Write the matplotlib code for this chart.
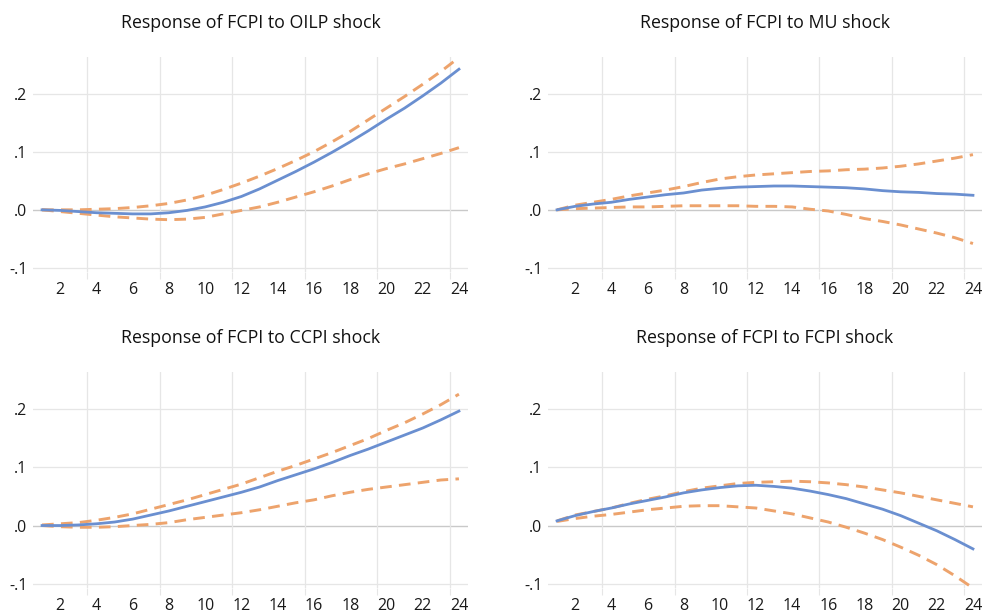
import matplotlib
matplotlib.use("Agg")
import matplotlib.pyplot as plt
import numpy as np

plt.rcParams['font.family'] = ['Open Sans', 'DejaVu Sans']

periods = list(range(1, 25))

# Response of FCPI to OILP shock
oilp_mid = [0.0, -0.001, -0.003, -0.005, -0.006, -0.007, -0.007, -0.005, -0.001, 0.005,
            0.013, 0.023, 0.036, 0.051, 0.066, 0.082, 0.099, 0.117, 0.136, 0.156,
            0.175, 0.196, 0.218, 0.242]
oilp_up = [0.0, 0.0, 0.0, 0.001, 0.002, 0.004, 0.007, 0.011, 0.017, 0.025,
           0.035, 0.046, 0.058, 0.071, 0.085, 0.100, 0.117, 0.135, 0.155, 0.175,
           0.195, 0.216, 0.238, 0.262]
oilp_lo = [0.0, -0.003, -0.006, -0.009, -0.012, -0.014, -0.016, -0.017, -0.016, -0.013,
           -0.007, -0.001, 0.005, 0.013, 0.022, 0.031, 0.041, 0.052, 0.062, 0.071,
           0.079, 0.088, 0.097, 0.107]

# Response of FCPI to MU shock
mu_mid = [0.0, 0.006, 0.010, 0.013, 0.018, 0.022, 0.026, 0.029, 0.034, 0.037,
          0.039, 0.040, 0.041, 0.041, 0.040, 0.039, 0.038, 0.036, 0.033, 0.031,
          0.030, 0.028, 0.027, 0.025]
mu_up = [0.0, 0.008, 0.013, 0.018, 0.024, 0.029, 0.034, 0.040, 0.047, 0.053,
         0.057, 0.060, 0.062, 0.064, 0.066, 0.067, 0.069, 0.070, 0.072, 0.075,
         0.079, 0.084, 0.089, 0.095]
mu_lo = [0.0, 0.002, 0.003, 0.004, 0.005, 0.005, 0.006, 0.007, 0.007, 0.007,
         0.007, 0.006, 0.006, 0.005, 0.001, -0.002, -0.008, -0.015, -0.020, -0.026,
         -0.033, -0.040, -0.048, -0.058]

# Response of FCPI to CCPI shock
ccpi_mid = [0.0, 0.0, 0.001, 0.003, 0.006, 0.011, 0.018, 0.025, 0.033, 0.041,
            0.049, 0.057, 0.066, 0.077, 0.087, 0.097, 0.108, 0.120, 0.131, 0.143,
            0.155, 0.167, 0.181, 0.196]
ccpi_up = [0.001, 0.003, 0.005, 0.009, 0.014, 0.020, 0.028, 0.036, 0.044, 0.053,
           0.062, 0.071, 0.082, 0.093, 0.103, 0.114, 0.125, 0.137, 0.149, 0.163,
           0.176, 0.191, 0.207, 0.225]
ccpi_lo = [0.0, -0.002, -0.003, -0.003, -0.002, 0.0, 0.002, 0.005, 0.010, 0.014,
           0.018, 0.022, 0.027, 0.033, 0.039, 0.044, 0.051, 0.057, 0.062, 0.066,
           0.070, 0.074, 0.078, 0.080]

# Response of FCPI to FCPI shock
fcpi_mid = [0.008, 0.017, 0.024, 0.030, 0.037, 0.043, 0.049, 0.056, 0.061, 0.065,
            0.068, 0.069, 0.067, 0.064, 0.059, 0.053, 0.046, 0.037, 0.028, 0.017,
            0.004, -0.009, -0.024, -0.040]
fcpi_up = [0.008, 0.018, 0.024, 0.030, 0.038, 0.045, 0.051, 0.058, 0.064, 0.068,
           0.072, 0.074, 0.075, 0.076, 0.075, 0.073, 0.070, 0.066, 0.061, 0.056,
           0.050, 0.044, 0.038, 0.032]
fcpi_lo = [0.007, 0.012, 0.016, 0.019, 0.023, 0.027, 0.030, 0.033, 0.034, 0.034,
           0.032, 0.030, 0.025, 0.020, 0.013, 0.006, -0.003, -0.013, -0.024, -0.037,
           -0.051, -0.067, -0.086, -0.107]

titles = ['Response of FCPI to OILP shock', 'Response of FCPI to MU shock',
          'Response of FCPI to CCPI shock', 'Response of FCPI to FCPI shock']
panels = [(oilp_mid, oilp_up, oilp_lo), (mu_mid, mu_up, mu_lo),
          (ccpi_mid, ccpi_up, ccpi_lo), (fcpi_mid, fcpi_up, fcpi_lo)]

yticks = [-0.1, 0.0, 0.1, 0.2]
ytick_labels = ['-.1', '.0', '.1', '.2']

blue = '#6a8fd0'
orange = '#eda36c'
grid_c = '#e6e6e6'

fig = plt.figure(figsize=(9.85, 6.12), dpi=100)

# axes boxes in pixels: left, top, right, bottom
W, H = 985, 612
boxes = [(33, 57, 468, 272), (548, 57, 982, 272),
         (33, 372, 468, 588), (548, 372, 982, 588)]

for box, title, (mid, up, lo) in zip(boxes, titles, panels):
    l, t, r, b = box
    ax = fig.add_axes([l / W, 1 - b / H, (r - l) / W, (b - t) / H])
    ax.set_xlim(0.5, 24.5)
    ax.set_ylim(-0.107, 0.263)
    for s in ax.spines.values():
        s.set_visible(False)

    ax.set_xticks(range(2, 25, 2))
    ax.set_xticks(np.arange(3.5, 24, 4), minor=True)
    ax.tick_params(axis='x', which='major', length=0, pad=7, labelsize=11.5, colors='#1a1a1a')
    ax.tick_params(axis='x', which='minor', length=5, width=0.8, color=grid_c)
    ax.grid(True, axis='x', which='minor', color=grid_c, lw=0.9)

    ax.set_yticks(yticks)
    ax.set_yticklabels(ytick_labels)
    ax.tick_params(axis='y', length=0, pad=4, labelsize=11.5, colors='#1a1a1a')
    for yv in yticks:
        if yv != 0:
            ax.axhline(yv, color=grid_c, lw=0.9, zorder=0)
    ax.axhline(0.0, color='#c9c9c9', lw=1.0, zorder=1)

    ax.plot(periods, up, color=orange, lw=2.1, ls=(0, (4, 2.5)), zorder=3)
    ax.plot(periods, lo, color=orange, lw=2.1, ls=(0, (4, 2.5)), zorder=3)
    ax.plot(periods, mid, color=blue, lw=2.0, zorder=4)

    ax.set_title(title, fontsize=12.8, color='#111111', pad=21)

fig.savefig('out.png', dpi=100)
